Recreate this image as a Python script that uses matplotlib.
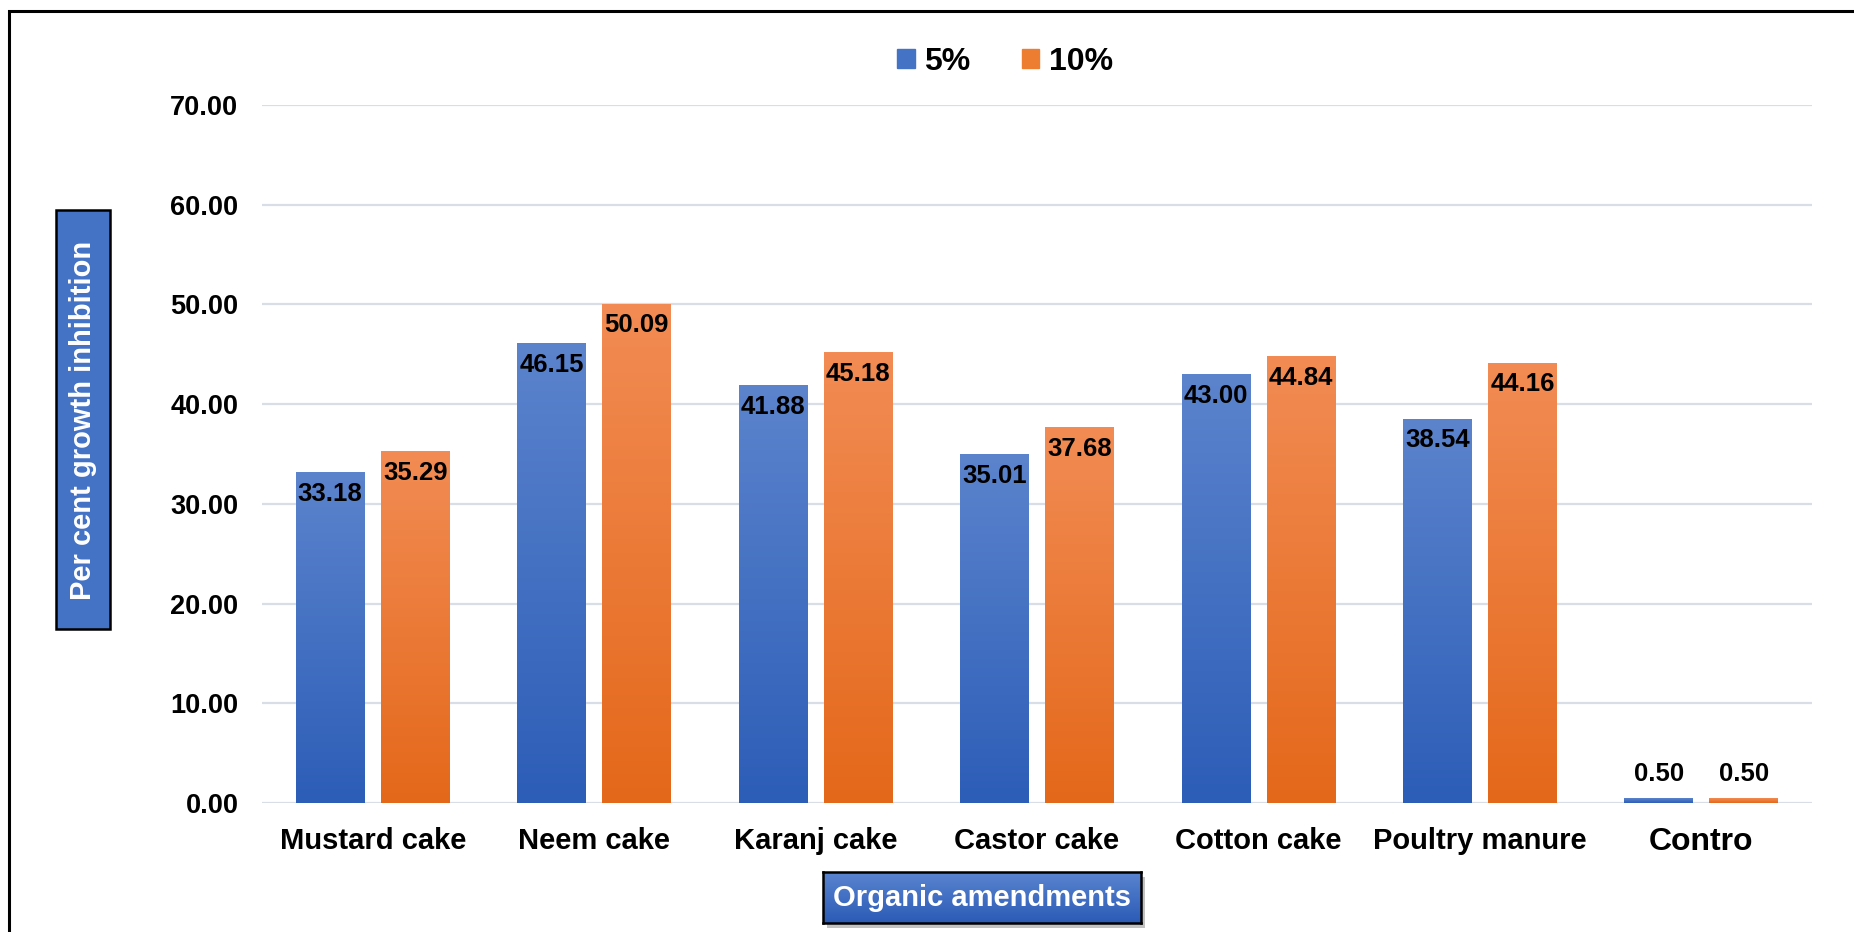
import matplotlib
matplotlib.use("Agg")
import matplotlib.pyplot as plt
import numpy as np
from matplotlib.patches import Rectangle
from matplotlib.colors import LinearSegmentedColormap

categories = ["Mustard cake", "Neem cake", "Karanj cake", "Castor cake",
              "Cotton cake", "Poultry manure", "Contro"]
series_names = ["5%", "10%"]
vals_5 = [33.18, 46.15, 41.88, 35.01, 43.00, 38.54, 0.50]
vals_10 = [35.29, 50.09, 45.18, 37.68, 44.84, 44.16, 0.50]
yticks = [0, 10, 20, 30, 40, 50, 60, 70]

plt.rcParams['font.family'] = ['Liberation Sans', 'DejaVu Sans']
plt.rcParams['font.weight'] = 'bold'

W, H = 1854, 932
fig = plt.figure(figsize=(W / 100, H / 100), dpi=100)
ax = fig.add_axes([262 / W, 1 - 803 / H, (1812 - 262) / W, (803 - 105) / H])

blue_cmap = LinearSegmentedColormap.from_list("b", ["#2c5db7", "#5c84cd"])
orange_cmap = LinearSegmentedColormap.from_list("o", ["#e4681a", "#f28c54"])
solid_blue = "#4472c4"
solid_orange = "#ed7d31"

x = np.arange(len(categories))
bw = 0.31
off = 0.192
grad = np.linspace(0, 1, 256).reshape(-1, 1)

for vals, sgn, cmap, col, name in [(vals_5, -1, blue_cmap, solid_blue, series_names[0]),
                                   (vals_10, 1, orange_cmap, solid_orange, series_names[1])]:
    bars = ax.bar(x + sgn * off, vals, width=bw, color=col, label=name, zorder=2)
    for b, v in zip(bars, vals):
        bx, by, bwid, bh = b.get_x(), b.get_y(), b.get_width(), b.get_height()
        im = ax.imshow(grad, extent=[bx, bx + bwid, by, by + bh], origin='lower',
                       aspect='auto', cmap=cmap, zorder=3, interpolation='bilinear')
        im.set_clip_path(b)
        if v > 5:
            ax.annotate(f"{v:.2f}", xy=(bx + bwid / 2, v), xytext=(0, -7),
                        textcoords='offset points', ha='center', va='top',
                        fontsize=18.5, fontweight='bold', color='black', zorder=5)
        else:
            ax.annotate(f"{v:.2f}", xy=(bx + bwid / 2, v), xytext=(0, 9),
                        textcoords='offset points', ha='center', va='bottom',
                        fontsize=18.5, fontweight='bold', color='black', zorder=5)

ax.set_xlim(-0.5, len(categories) - 0.5)
ax.set_ylim(0, 70)
ax.set_yticks(yticks)
ax.set_yticklabels([f"{t:.2f}" for t in yticks], fontsize=19.5, fontweight='bold')
ax.set_xticks(x)
ax.set_xticklabels(categories, fontsize=21, fontweight='bold')
ax.get_xticklabels()[-1].set_fontsize(23)
ax.tick_params(axis='both', length=0)
ax.tick_params(axis='y', pad=17)
ax.tick_params(axis='x', pad=17)
for s in ax.spines.values():
    s.set_visible(False)
ax.grid(axis='y', color='#d9dde5', linewidth=1.6, zorder=0)
ax.set_axisbelow(True)

# Legend
handles = [Rectangle((0, 0), 1, 1, color=solid_blue), Rectangle((0, 0), 1, 1, color=solid_orange)]
fig.legend(handles, series_names, loc='center', bbox_to_anchor=(1005 / W, 1 - 62 / H),
           ncol=2, frameon=False, prop={'weight': 'bold', 'size': 23},
           handlelength=0.55, handleheight=0.55, handletextpad=0.3, columnspacing=1.6)

# Y label box
fig.patches.append(Rectangle((56 / W, 1 - 629 / H), 54 / W, 419 / H, transform=fig.transFigure,
                             facecolor='#4472c4', edgecolor='black', linewidth=1.8, zorder=1))
fig.text(83 / W, 1 - 420 / H, "Per cent growth inhibition", rotation=90, ha='center', va='center',
         color='white', fontsize=21, fontweight='bold', zorder=2)

# X label box with shadow and gradient
xb0, xb1, yb0, yb1 = 823, 1141, 872, 923
fig.patches.append(Rectangle(((xb0 + 4) / W, 1 - (yb1 + 5) / H), (xb1 - xb0) / W, (yb1 - yb0) / H,
                             transform=fig.transFigure, facecolor='#9a9a9a', edgecolor='none',
                             alpha=0.6, zorder=1))
gax = fig.add_axes([xb0 / W, 1 - yb1 / H, (xb1 - xb0) / W, (yb1 - yb0) / H])
gax.set_zorder(5)
gax.imshow(grad, origin='lower', aspect='auto', cmap=LinearSegmentedColormap.from_list(
    "g", ["#2b5bb6", "#5a84d0"]), extent=[0, 1, 0, 1], interpolation='bilinear')
gax.set_xticks([]); gax.set_yticks([])
for s in gax.spines.values():
    s.set_color('black'); s.set_linewidth(1.8)
gax.text(0.5, 0.5, "Organic amendments", ha='center', va='center', color='white',
         fontsize=21, fontweight='bold', transform=gax.transAxes)

# Outer frame
fig.patches.append(Rectangle((9 / W, -0.1), 1.2, 1.1 - 11 / H, transform=fig.transFigure,
                             facecolor='none', edgecolor='black', linewidth=2.2, zorder=0))

fig.savefig("out.png", dpi=100)
